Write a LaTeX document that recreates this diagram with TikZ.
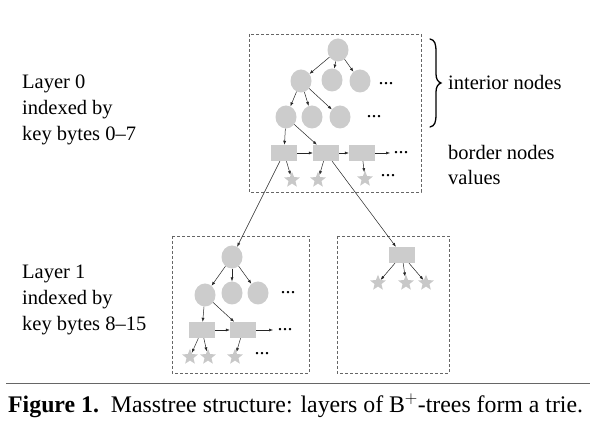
\documentclass[tikz,border=0pt]{standalone}
\usepackage{fontspec}
\setmainfont{Liberation Serif}
\usetikzlibrary{shapes.geometric,arrows.meta}
\definecolor{nodegray}{HTML}{CCCCCC}
\definecolor{stargray}{HTML}{C8C8C8}
\begin{document}
\begin{tikzpicture}[x=1pt,y=-1pt,
 cnode/.style={ellipse,fill=nodegray,minimum width=21pt,minimum height=23pt,inner sep=0pt},
 bnode/.style={rectangle,fill=nodegray,minimum width=26pt,minimum height=16pt,inner sep=0pt},
 vnode/.style={star,star points=5,star point ratio=2.3,fill=stargray,minimum size=16.5pt,inner sep=0pt},
 arr/.style={-{Latex[length=4pt,width=3pt]},line width=0.5pt,draw=black!85},
 conn/.style={-{Latex[length=4pt,width=3pt]},line width=0.5pt,draw=black!85},
 dots/.style={font=\fontsize{20}{20}\selectfont,inner sep=0pt},
 lbl/.style={font=\fontsize{20.5}{26}\selectfont,align=left,anchor=west,inner sep=0pt},
 frame/.style={draw=black!60,dash pattern=on 3pt off 2pt,line width=0.5pt}]
\useasboundingbox (0,0) rectangle (600,435);
\fill[white] (0,0) rectangle (600,435);
% frames
\draw[frame] (249,34) rectangle (421,192);
\draw[frame] (172,236) rectangle (309,373);
\draw[frame] (337,236) rectangle (449,373);
% top tree
\node[cnode] (r0) at (338,50) {};
\node[cnode] (a1) at (301,81) {};
\node[cnode] (a2) at (332,80) {};
\node[cnode] (a3) at (360,81) {};
\node[dots] (ad) at (386,84) {...};
\node[cnode] (b1) at (286,117) {};
\node[cnode] (b2) at (312,117) {};
\node[cnode] (b3) at (340,117) {};
\node[dots] (bd) at (374,117) {...};
\node[bnode] (c1) at (284,153) {};
\node[bnode] (c2) at (326,153) {};
\node[bnode] (c3) at (362,153) {};
\node[dots] (cd) at (401,153) {...};
\coordinate (ce) at (390,153);
\node[vnode] (s1) at (292,180) {};
\node[vnode] (s2) at (318,180) {};
\node[vnode] (s3) at (365,179) {};
\node[dots] (sd) at (388,176) {...};
\foreach \t in {a1,a2,a3} \draw[arr] (r0) -- (\t);
\foreach \t in {b1,b2,b3} \draw[arr] (a1) -- (\t);
\draw[arr] (b1) -- (c1);
\draw[arr] (b1) -- (c2);
\draw[arr] (c1) -- (c2);
\draw[arr] (c2) -- (c3);
\draw[arr] (c3) -- (ce);
\draw[arr] (c1) -- (s1);
\draw[arr] (c2) -- (s2);
\draw[arr] (c3) -- (s3);
% layer 1 left
\node[cnode] (l0) at (232,257) {};
\node[cnode] (la1) at (205,295) {};
\node[cnode] (la2) at (232,293) {};
\node[cnode] (la3) at (258,293) {};
\node[dots] (lad) at (288,293) {...};
\node[bnode] (lc1) at (202,330) {};
\node[bnode] (lc2) at (243,330) {};
\node[dots] (lcd) at (285,330) {...};
\coordinate (lce) at (273,330);
\node[vnode] (ls1) at (190,357) {};
\node[vnode] (ls2) at (208,357) {};
\node[vnode] (ls3) at (235,357) {};
\node[dots] (lsd) at (262,354) {...};
\foreach \t in {la1,la2,la3} \draw[arr] (l0) -- (\t);
\draw[arr] (la1) -- (lc1);
\draw[arr] (la1) -- (lc2);
\draw[arr] (lc1) -- (lc2);
\draw[arr] (lc2) -- (lce);
\draw[arr] (lc1) -- (ls1);
\draw[arr] (lc1) -- (ls2);
\draw[arr] (lc2) -- (ls3);
% layer 1 right
\node[bnode] (rr) at (402,255) {};
\node[vnode] (rs1) at (378,283) {};
\node[vnode] (rs2) at (406,283) {};
\node[vnode] (rs3) at (426,283) {};
\foreach \t in {rs1,rs2,rs3} \draw[arr] (rr) -- (\t);
% layer links
\draw[conn] (c1) -- (l0);
\draw[conn] (c2) -- (rr);
% labels
\node[lbl] (t0) at (22,110) {Layer 0\\indexed by\\key bytes 0--7};
\node[lbl] (t1) at (22,300) {Layer 1\\indexed by\\key bytes 8--15};
\draw[line width=1.3pt,line cap=round] (430,39) .. controls (435,40) and (436,44) .. (436,52) -- (436,74) .. controls (436,79) and (438,82) .. (441,83) .. controls (438,84) and (436,87) .. (436,92) -- (436,114) .. controls (436,122) and (435,126) .. (430,127);
\node[lbl] (tin) at (448,82) {interior nodes};
\node[lbl] (tbo) at (448,152) {border nodes};
\node[lbl] (tva) at (448,177) {values};
% caption
\draw[black!60,line width=0.8pt] (6,383) -- (590,383);
\node[inner sep=0pt,anchor=west,font=\fontsize{23.8}{28}\selectfont] (cap) at (8,406) {\textbf{Figure 1.}\ \ Masstree structure: layers of B$^+$-trees form a trie.};
\end{tikzpicture}
\end{document}
